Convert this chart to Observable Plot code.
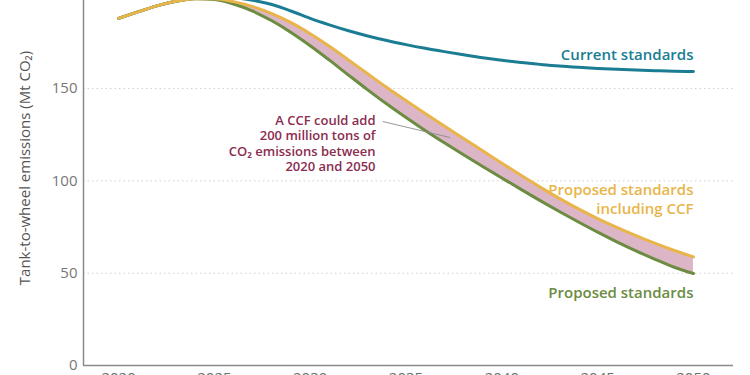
<!DOCTYPE html>
<html>
<head>
<meta charset="utf-8">
<script src="https://cdn.jsdelivr.net/npm/d3@7"></script>
<script src="https://cdn.jsdelivr.net/npm/@observablehq/plot@0.6"></script>
<style>
  html, body { margin: 0; padding: 0; background: #fff; }
  #chart { width: 750px; height: 375px; overflow: hidden; }
</style>
</head>
<body>
<div id="chart"></div>
<script>
const years = [2020,2021,2022,2023,2024,2025,2026,2027,2028,2029,2030,2031,2032,2033,2034,2035,2036,2037,2038,2039,2040,2041,2042,2043,2044,2045,2046,2047,2048,2049,2050];
const currentStd = [188,191.5,194.8,197.3,198.9,199.6,199.2,197.8,195.5,192,188,184.5,181.3,178.5,176,173.8,171.8,170,168.3,166.7,165.3,164.1,163.1,162.2,161.5,160.9,160.4,160,159.7,159.4,159.2];
const proposedStd = [188,191.5,194.8,197.3,198.6,198.2,195.8,191.9,186.7,180.4,173.2,165.4,157.3,149.3,141.6,134.3,127.3,120.6,114.1,107.8,101.6,95.4,89.3,83.4,77.7,72.2,67.0,62.1,57.5,53.2,49.8];
const proposedCCF = [188,191.5,194.8,197.3,198.6,198.7,197.1,194.4,190.6,185.7,179.7,172.9,165.5,158.0,150.6,143.5,136.5,129.7,123.0,116.3,109.6,103.0,96.6,90.5,84.8,79.6,74.8,70.3,66.1,62.3,58.8];

const xTicks = [2020,2025,2030,2035,2040,2045,2050];
const yTicks = [0,50,100,150];
const yTitle = "Tank-to-wheel emissions (Mt CO₂)";

const seriesLabels = ["Current standards", "Proposed standards\nincluding CCF", "Proposed standards"];
const seriesLabelX = [2050, 2050, 2050];
const seriesLabelY = [169, 90.7, 40.1];
const seriesColors = ["#1a7d93", "#e9b54a", "#6b8c41"];

const noteText = "A CCF could add\n200 million tons of\nCO₂ emissions between\n2020 and 2050";
const noteX = [2033.41];
const noteY = [120.5];
const leaderX = [2033.8, 2037.3];
const leaderY = [132.1, 123.5];

const rows = years.map((y, i) => ({year: y, current: currentStd[i], proposed: proposedStd[i], ccf: proposedCCF[i]}));
const font = "'Open Sans', sans-serif";

const chart = Plot.plot({
  width: 750,
  height: 375,
  marginLeft: 83,
  marginRight: 17,
  marginTop: 0,
  marginBottom: 10,
  style: {fontFamily: font, background: "#fff", overflow: "hidden"},
  x: {domain: [2018.17, 2052.09], label: null},
  y: {domain: [0, 197.7], label: null},
  marks: [
    Plot.gridY(yTicks.filter(d => d > 0), {stroke: "#cfcfcf", strokeOpacity: 1, strokeDasharray: "1.5,3", strokeWidth: 1}),
    Plot.ruleX([2018.17], {stroke: "#8a8a8a", strokeWidth: 1.5}),
    Plot.ruleY([0], {stroke: "#8a8a8a", strokeWidth: 1.5}),
    Plot.axisX({ticks: xTicks, tickFormat: d => String(d), tickSize: 0, tickPadding: 7, fontSize: 15, fill: "#6d6d6d", label: null}),
    Plot.axisY({ticks: yTicks, tickSize: 0, tickPadding: 6, fontSize: 15, fill: "#777", label: null}),
    Plot.areaY(rows, {x: "year", y1: "proposed", y2: "ccf", fill: "#dcb6c6", curve: "monotone-x"}),
    Plot.lineY(rows, {x: "year", y: "current", stroke: seriesColors[0], strokeWidth: 3, curve: "monotone-x"}),
    Plot.lineY(rows, {x: "year", y: "proposed", stroke: seriesColors[2], strokeWidth: 3, curve: "monotone-x"}),
    Plot.lineY(rows, {x: "year", y: "ccf", stroke: seriesColors[1], strokeWidth: 3, curve: "monotone-x"}),
    Plot.line(leaderX.map((x, i) => ({x, y: leaderY[i]})), {x: "x", y: "y", stroke: "#8c8c8c", strokeWidth: 0.9}),
    Plot.text(seriesLabels.map((t, i) => ({t, x: seriesLabelX[i], y: seriesLabelY[i], c: seriesColors[i]})), {
      x: "x", y: "y", text: "t", fill: d => d.c, textAnchor: "end", lineAnchor: "middle",
      fontSize: 15, fontWeight: 600, lineHeight: 1.27
    }),
    Plot.text([noteText], {x: noteX, y: noteY, text: d => d, fill: "#8b2c50", textAnchor: "end", lineAnchor: "middle", fontSize: 13, fontWeight: 600, lineHeight: 1.18}),
    Plot.text([yTitle], {frameAnchor: "left", text: d => d, rotate: -90, dx: -58, dy: -15, fontSize: 15, fill: "#555", textAnchor: "middle", lineAnchor: "middle"})
  ]
});
document.getElementById("chart").append(chart);
</script>
</body>
</html>
